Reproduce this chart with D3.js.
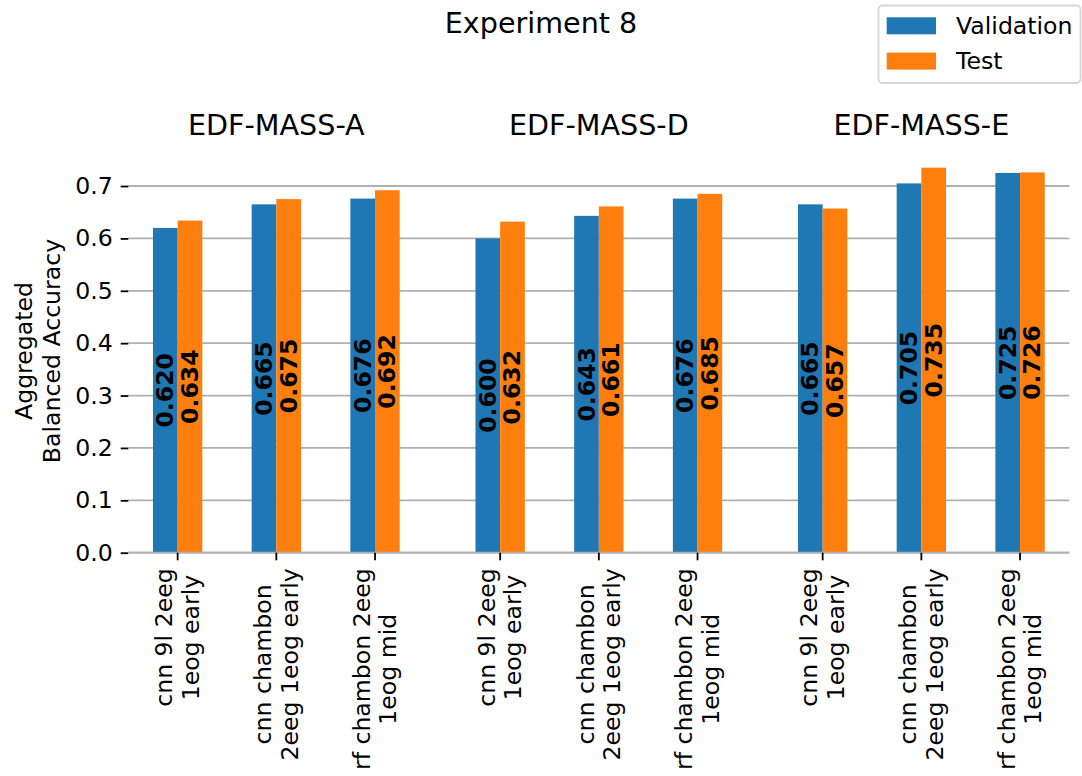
<!DOCTYPE html>
<html>
<head>
<meta charset="utf-8">
<script src="https://cdn.jsdelivr.net/npm/d3@7"></script>
<style>
  body { margin: 0; background: #fff; }
  svg { display: block; font-family: "DejaVu Sans", sans-serif; }
</style>
</head>
<body>
<svg width="1082" height="776"></svg>
<script>
const datasets = ["EDF-MASS-A", "EDF-MASS-D", "EDF-MASS-E"]
const models = ["cnn 9l 2eeg\n1eog early", "cnn chambon\n2eeg 1eog early", "rf chambon 2eeg\n1eog mid"]
const seriesNames = ["Validation", "Test"]
const colors = ["#1f77b4", "#ff7f0e"]

// one array per dataset, [validation, test] per model
const massA = [[0.620, 0.634], [0.665, 0.675], [0.676, 0.692]]
const massD = [[0.600, 0.632], [0.643, 0.661], [0.676, 0.685]]
const massE = [[0.665, 0.657], [0.705, 0.735], [0.725, 0.726]]
const yTicks = [0, 0.1, 0.2, 0.3, 0.4, 0.5, 0.6, 0.7]

const allValues = [massA, massD, massE]

const bars = []
datasets.forEach((ds, p) => {
    models.forEach((m, i) => {
        seriesNames.forEach((s, k) => {
            bars.push({ds: ds, model: m, series: s, k: k, value: allValues[p][i][k]})
        })
    })
})

const svg = d3.select("svg")
const plotLeft = 128.3, plotRight = 1069.4, plotTop = 148.3, plotBottom = 552.7
const fs = 23.6
const titleFs = 28.6

const xPanel = d3.scaleBand().domain(datasets).range([plotLeft, plotRight]).paddingInner(0.082)
const xModel = d3.scaleBand().domain(models).range([0, xPanel.bandwidth()]).paddingInner(0.5).paddingOuter(0.25)
const xSeries = d3.scaleBand().domain(seriesNames).range([0, xModel.bandwidth()])
const y = d3.scaleLinear().domain([0, 0.772]).range([plotBottom, plotTop])

// grid
svg.append("g")
    .selectAll("line.grid")
    .data(yTicks)
    .enter()
    .append("line")
    .attr("class", "grid")
    .attr("x1", plotLeft)
    .attr("x2", plotRight)
    .attr("y1", d => y(d))
    .attr("y2", d => y(d))
    .attr("stroke", "#b0b0b0")
    .attr("stroke-width", 1.8)

// y axis
const yAxis = svg.append("g")
    .attr("transform", `translate(${plotLeft}, 0)`)
    .call(d3.axisLeft(y).tickValues(yTicks).tickFormat(d3.format(".1f")).tickSize(7.6).tickPadding(8))
yAxis.select(".domain").remove()
yAxis.selectAll(".tick line").attr("stroke", "#000").attr("stroke-width", 1.8)
yAxis.selectAll(".tick text")
    .attr("fill", "#000")
    .style("font-size", fs + "px")
    .style("font-family", "DejaVu Sans")

// bars
svg.append("g")
    .selectAll("rect.bar")
    .data(bars)
    .enter()
    .append("rect")
    .attr("class", "bar")
    .attr("x", d => xPanel(d.ds) + xModel(d.model) + xSeries(d.series))
    .attr("width", xSeries.bandwidth())
    .attr("y", d => y(d.value))
    .attr("height", d => y(0) - y(d.value))
    .style("fill", d => colors[d.k])

// bar value labels, centred in bar
svg.append("g")
    .selectAll("text.val")
    .data(bars)
    .enter()
    .append("text")
    .attr("class", "val")
    .attr("transform", d => {
        const cx = xPanel(d.ds) + xModel(d.model) + xSeries(d.series) + xSeries.bandwidth() / 2
        const cy = (y(0) + y(d.value)) / 2
        return `translate(${cx}, ${cy}) rotate(-90)`
    })
    .attr("text-anchor", "middle")
    .attr("dominant-baseline", "central")
    .style("font-size", fs + "px")
    .style("font-weight", "bold")
    .text(d => d3.format(".3f")(d.value))

// bottom line
svg.append("line")
    .attr("x1", plotLeft)
    .attr("x2", plotRight)
    .attr("y1", plotBottom)
    .attr("y2", plotBottom)
    .attr("stroke", "#b0b0b0")
    .attr("stroke-width", 1.8)

// x ticks and labels
const tickData = []
datasets.forEach(ds => models.forEach(m => tickData.push({ds: ds, model: m})))

const tickG = svg.append("g")
    .selectAll("g.xtick")
    .data(tickData)
    .enter()
    .append("g")
    .attr("class", "xtick")
    .attr("transform", d => `translate(${xPanel(d.ds) + xModel(d.model) + xModel.bandwidth() / 2}, ${plotBottom})`)

tickG.append("line")
    .attr("y1", 0)
    .attr("y2", 7.6)
    .attr("stroke", "#000")
    .attr("stroke-width", 1.8)

const lineH = 26.5
tickG.each(function(d){
    const lines = d.model.split("\n")
    const g = d3.select(this).append("g").attr("transform", "translate(0, 15.6) rotate(-90)")
    const texts = lines.map((ln, i) => g.append("text")
        .attr("y", (i - (lines.length - 1) / 2) * lineH)
        .attr("text-anchor", "middle")
        .attr("dominant-baseline", "central")
        .style("font-size", fs + "px")
        .text(ln))
    const L = d3.max(texts, t => t.node().getComputedTextLength())
    texts.forEach(t => t.attr("x", -L / 2))
})

// y label
const yl = svg.append("g").attr("transform", "translate(38, 351) rotate(-90)")
;["Aggregated", "Balanced Accuracy"].forEach((ln, i) => {
    yl.append("text")
        .attr("y", (i - 0.5) * 27.4)
        .attr("text-anchor", "middle")
        .attr("dominant-baseline", "central")
        .style("font-size", fs + "px")
        .text(ln)
})

// panel titles
svg.append("g")
    .selectAll("text.ptitle")
    .data(datasets)
    .enter()
    .append("text")
    .attr("class", "ptitle")
    .attr("x", d => xPanel(d) + xPanel.bandwidth() / 2)
    .attr("y", 135)
    .attr("text-anchor", "middle")
    .style("font-size", titleFs + "px")
    .text(d => d)

// main title
svg.append("text")
    .attr("x", 541)
    .attr("y", 33)
    .attr("text-anchor", "middle")
    .style("font-size", titleFs + "px")
    .text("Experiment 8")

// legend
const legend = svg.append("g")
legend.append("rect")
    .attr("x", 878.5)
    .attr("y", 5.5)
    .attr("width", 202)
    .attr("height", 77.5)
    .attr("rx", 4)
    .attr("fill", "#fff")
    .attr("fill-opacity", 0.8)
    .attr("stroke", "#d6d6d6")
    .attr("stroke-width", 1.8)

seriesNames.forEach((s, k) => {
    legend.append("rect")
        .attr("x", 886.7)
        .attr("y", 17.3 + k * 35.3)
        .attr("width", 49.3)
        .attr("height", 17)
        .style("fill", colors[k])
    legend.append("text")
        .attr("x", 956)
        .attr("y", 34 + k * 35.3)
        .style("font-size", fs + "px")
        .text(s)
})
</script>
</body>
</html>
